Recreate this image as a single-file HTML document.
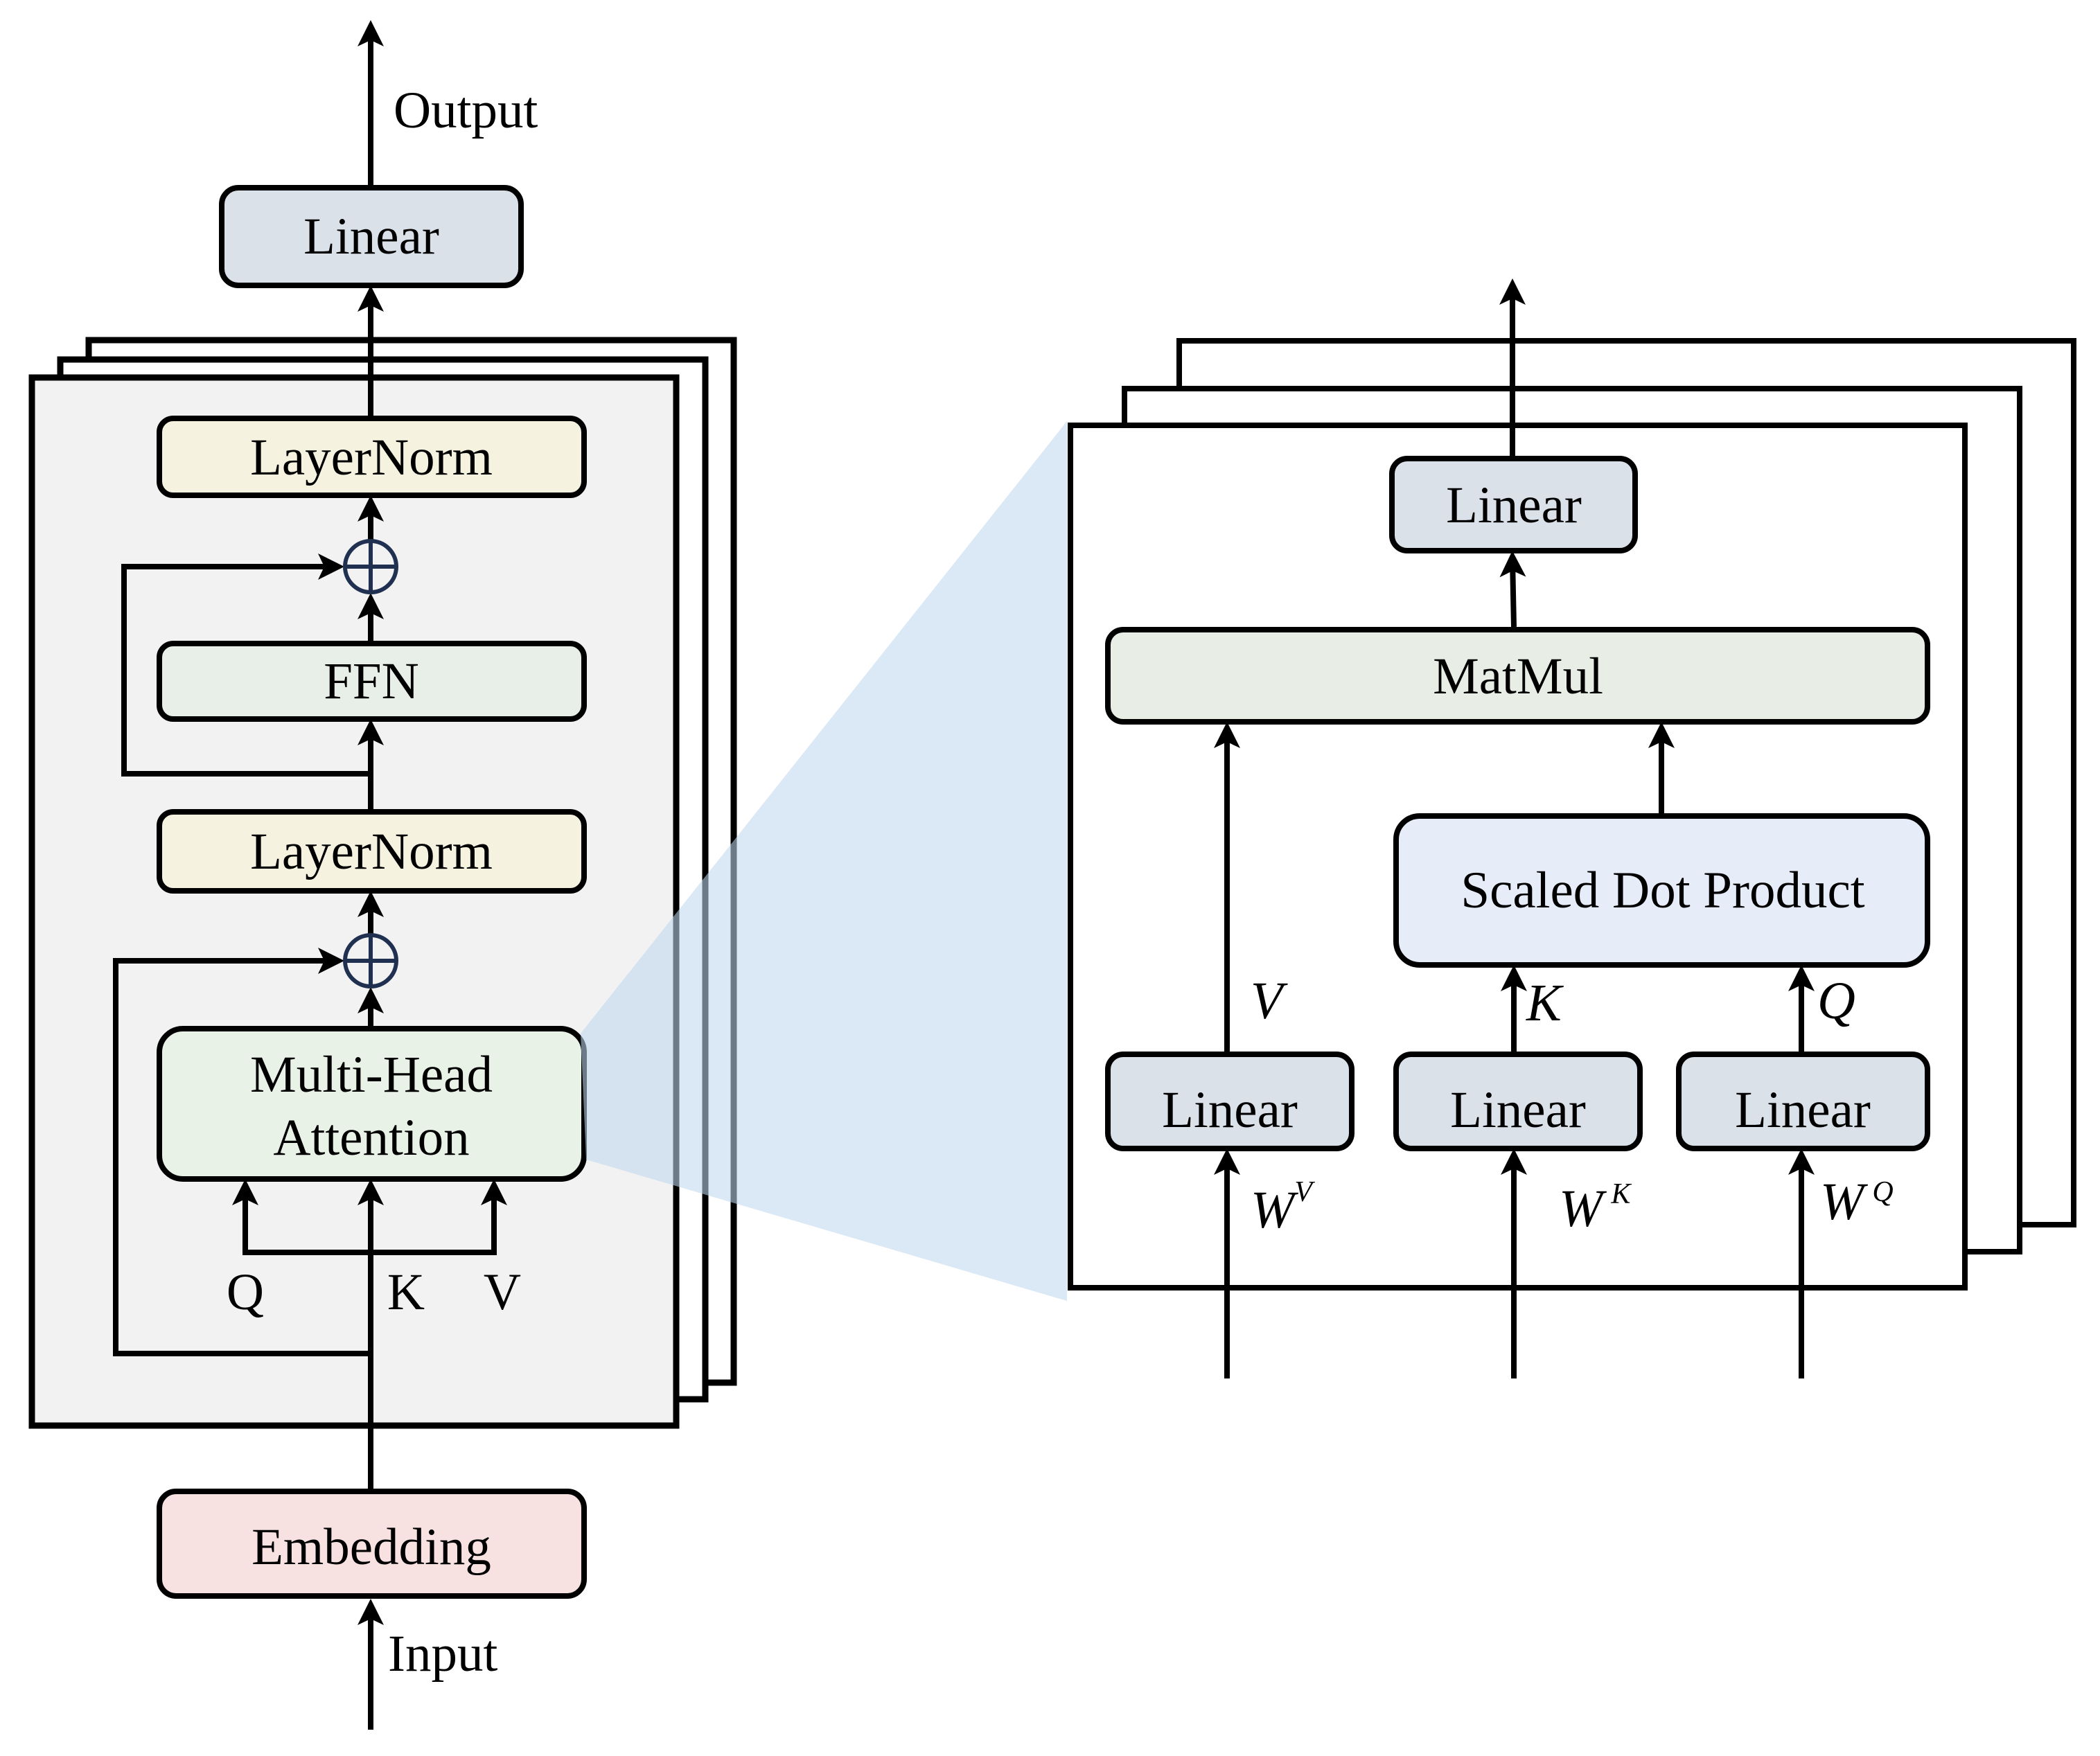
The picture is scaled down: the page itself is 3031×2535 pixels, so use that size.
<!DOCTYPE html>
<html><head><meta charset="utf-8"><style>
html,body{margin:0;padding:0;background:#fff;}
svg{display:block;}
text{font-family:"Liberation Serif",serif;fill:#000;}
</style></head><body>
<svg width="3031" height="2535" viewBox="0 0 3031 2535" xmlns="http://www.w3.org/2000/svg">
<defs>
<marker id="a" markerUnits="userSpaceOnUse" viewBox="-30 -24 44 48" refX="0" refY="0" markerWidth="44" markerHeight="48" orient="auto">
<path d="M12,0 L-26,-19 L-17,0 L-26,19 Z" fill="#000"/>
</marker>
</defs>
<g fill="none" stroke="#000" stroke-width="8">
<!-- left stacks -->
<rect x="128" y="491" width="931" height="1505" fill="#fff" stroke-width="9"/>
<rect x="87" y="519" width="931" height="1501" fill="#fff" stroke-width="9"/>
<rect x="46" y="545" width="930" height="1513" fill="#f2f2f2" stroke-width="9"/>
</g>
<!-- left lines -->
<g fill="none" stroke="#000" stroke-width="8">
<line x1="535" y1="267" x2="535" y2="41" marker-end="url(#a)"/>
<line x1="535" y1="600" x2="535" y2="424" marker-end="url(#a)"/>
<line x1="535" y1="780" x2="535" y2="727" marker-end="url(#a)"/>
<line x1="535" y1="925" x2="535" y2="868" marker-end="url(#a)"/>
<polyline points="535,1117 179,1117 179,818 485,818" marker-end="url(#a)"/>
<line x1="535" y1="1168" x2="535" y2="1050" marker-end="url(#a)"/>
<line x1="535" y1="1349" x2="535" y2="1298" marker-end="url(#a)"/>
<line x1="535" y1="1481" x2="535" y2="1437" marker-end="url(#a)"/>
<polyline points="535,1954 167,1954 167,1387 485,1387" marker-end="url(#a)"/>
<line x1="535" y1="2149" x2="535" y2="1714" marker-end="url(#a)"/>
<polyline points="354,1808 354,1714" marker-end="url(#a)"/>
<polyline points="713,1808 713,1714" marker-end="url(#a)"/>
<line x1="350" y1="1808" x2="717" y2="1808"/>
<line x1="535" y1="2497" x2="535" y2="2320" marker-end="url(#a)"/>
</g>
<!-- circles -->
<g fill="none" stroke="#1f3050" stroke-width="6">
<circle cx="535" cy="818" r="37"/><line x1="498" y1="818" x2="572" y2="818"/><line x1="535" y1="781" x2="535" y2="855"/>
<circle cx="535" cy="1387" r="37"/><line x1="498" y1="1387" x2="572" y2="1387"/><line x1="535" y1="1350" x2="535" y2="1424"/>
</g>
<!-- left boxes -->
<g stroke="#000" stroke-width="8">
<rect x="320" y="271" width="432" height="141" rx="24" fill="#dae1e9"/>
<rect x="230" y="604" width="613" height="111" rx="20" fill="#f5f3e0"/>
<rect x="230" y="929" width="613" height="109" rx="20" fill="#e8eee8"/>
<rect x="230" y="1172" width="613" height="114" rx="20" fill="#f5f3e0"/>
<rect x="230" y="1485" width="613" height="217" rx="34" fill="#e8f2e6"/>
<rect x="230" y="2153" width="613" height="151" rx="24" fill="#f8e1e1"/>
</g>
<g font-size="75" text-anchor="middle">
<text x="536" y="366">Linear</text>
<text x="536" y="685">LayerNorm</text>
<text x="536" y="1008">FFN</text>
<text x="536" y="1254">LayerNorm</text>
<text x="536" y="1576">Multi-Head</text>
<text x="536" y="1667">Attention</text>
<text x="536" y="2258">Embedding</text>
<text x="354" y="1890">Q</text>
<text x="586" y="1890">K</text>
<text x="725" y="1890">V</text>
</g>
<g font-size="75">
<text x="568" y="184">Output</text>
<text x="560" y="2412">Input</text>
</g>
<!-- shading -->
<polygon points="838,1492 1540,608 1540,1878 846,1674" fill="rgb(192,214,237)" fill-opacity="0.57"/>
<!-- right stacks -->
<g fill="#fff" stroke="#000" stroke-width="8">
<rect x="1702" y="492" width="1291" height="1276"/>
<rect x="1623" y="561" width="1292" height="1246"/>
<rect x="1545" y="614" width="1291" height="1245"/>
</g>
<g fill="none" stroke="#000" stroke-width="8">
<line x1="2183" y1="658" x2="2183" y2="414" marker-end="url(#a)"/>
<line x1="2185" y1="905" x2="2183" y2="807" marker-end="url(#a)"/>
<line x1="1771" y1="1518" x2="1771" y2="1054" marker-end="url(#a)"/>
<line x1="2398" y1="1174" x2="2398" y2="1054" marker-end="url(#a)"/>
<line x1="2185" y1="1518" x2="2185" y2="1405" marker-end="url(#a)"/>
<line x1="2600" y1="1518" x2="2600" y2="1405" marker-end="url(#a)"/>
<line x1="1771" y1="1990" x2="1771" y2="1670" marker-end="url(#a)"/>
<line x1="2185" y1="1990" x2="2185" y2="1670" marker-end="url(#a)"/>
<line x1="2600" y1="1990" x2="2600" y2="1670" marker-end="url(#a)"/>
</g>
<g stroke="#000" stroke-width="8">
<rect x="2009" y="662" width="351" height="133" rx="22" fill="#dae1e9"/>
<rect x="1599" y="909" width="1183" height="133" rx="22" fill="#e8ede6"/>
<rect x="2015" y="1178" width="767" height="215" rx="34" fill="#e6edf8"/>
<rect x="1599" y="1522" width="352" height="136" rx="22" fill="#dae1e9"/>
<rect x="2015" y="1522" width="352" height="136" rx="22" fill="#dae1e9"/>
<rect x="2423" y="1522" width="359" height="136" rx="22" fill="#dae1e9"/>
</g>
<g font-size="75" text-anchor="middle">
<text x="2185" y="754">Linear</text>
<text x="2191" y="1001">MatMul</text>
<text x="2400" y="1310">Scaled Dot Product</text>
<text x="1775" y="1627">Linear</text>
<text x="2191" y="1627">Linear</text>
<text x="2602" y="1627">Linear</text>
</g>
<g font-size="76" font-style="italic">
<text x="1805" y="1470">V</text>
<text x="2203" y="1473">K</text>
<text x="2623" y="1470">Q</text>
<text x="1805" y="1772">W<tspan font-size="42" dy="-38">V</tspan></text>
<text x="2250" y="1770">W<tspan font-size="42" dy="-33" dx="12">K</tspan></text>
<text x="2627" y="1760">W<tspan font-size="42" dy="-26" dx="12">Q</tspan></text>
</g>
</svg>
</body></html>
